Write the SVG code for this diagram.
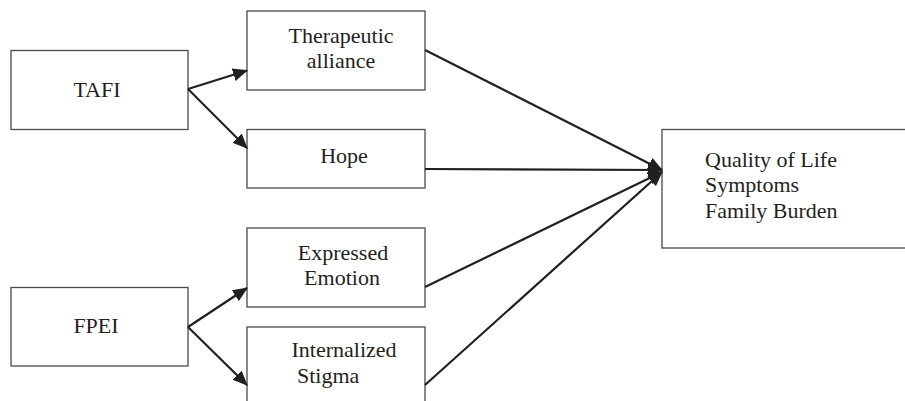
<svg xmlns="http://www.w3.org/2000/svg" width="905" height="401" viewBox="0 0 905 401">
<style>
.box{fill:#fff;stroke:#4a4a4a;stroke-width:1.3}
.t{font-family:"Liberation Serif","Times New Roman",serif;font-size:22px;fill:#231f20}
.c{text-anchor:middle}
.ln{stroke:#231f20;stroke-width:2.2;fill:none}
</style>
<defs>
<marker id="ah" markerWidth="15" markerHeight="13" refX="14" refY="6.5" orient="auto" markerUnits="userSpaceOnUse">
<path d="M0,0 L15,6.5 L0,13 Z" fill="#231f20"/>
</marker>
</defs>
<rect width="905" height="401" fill="#fff"/>
<g id="tafi"><rect class="box" x="11" y="50.5" width="177" height="79"/><text class="t c" x="97" y="97">TAFI</text></g>
<g id="therapeutic"><rect class="box" x="247" y="11" width="178" height="79"/><text class="t c" x="341" y="43">Therapeutic</text><text class="t c" x="341" y="68">alliance</text></g>
<g id="hope"><rect class="box" x="247" y="129.5" width="178" height="58.5"/><text class="t c" x="344" y="163">Hope</text></g>
<g id="expressed"><rect class="box" x="247" y="228" width="178" height="79"/><text class="t c" x="343" y="260">Expressed</text><text class="t c" x="342" y="285">Emotion</text></g>
<g id="fpei"><rect class="box" x="11" y="287.5" width="177" height="78.5"/><text class="t c" x="96" y="333">FPEI</text></g>
<g id="stigma"><rect class="box" x="247" y="327" width="178" height="80"/><text class="t c" x="344" y="357">Internalized</text><text class="t" x="297" y="383">Stigma</text></g>
<g id="outcome"><rect class="box" x="662" y="129.5" width="250" height="118.5"/><text class="t" x="705" y="167">Quality of Life</text><text class="t" x="705" y="192">Symptoms</text><text class="t" x="705" y="218">Family Burden</text></g>
<g id="connectors">
<line class="ln" x1="188" y1="89" x2="247" y2="70.5" marker-end="url(#ah)"/>
<line class="ln" x1="188" y1="89" x2="247" y2="148" marker-end="url(#ah)"/>
<line class="ln" x1="188" y1="327" x2="247" y2="288" marker-end="url(#ah)"/>
<line class="ln" x1="188" y1="327" x2="247" y2="385" marker-end="url(#ah)"/>
<line class="ln" x1="425" y1="50" x2="662" y2="170" marker-end="url(#ah)"/>
<line class="ln" x1="425" y1="169" x2="662" y2="170" marker-end="url(#ah)"/>
<line class="ln" x1="425" y1="287" x2="662" y2="172" marker-end="url(#ah)"/>
<line class="ln" x1="425" y1="385" x2="662" y2="172" marker-end="url(#ah)"/>
</g>
</svg>
